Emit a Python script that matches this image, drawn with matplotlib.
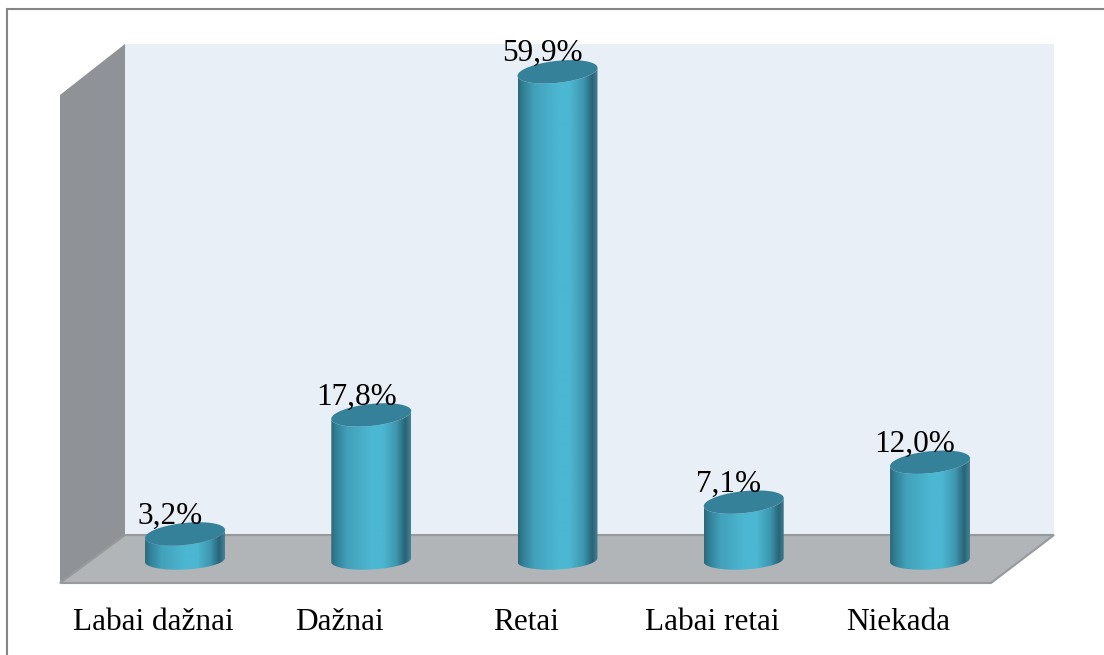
from matplotlib import pyplot as plt
from matplotlib.patches import Polygon
import numpy as np

categories = ['Labai dažnai', 'Dažnai', 'Retai', 'Labai retai', 'Niekada']
values = [3.2, 17.8, 59.9, 7.1, 12.0]
value_labels = ['3,2%', '17,8%', '59,9%', '7,1%', '12,0%']

W, H = 1104, 655
x0, dx = 185, 186.25   # pixel of first bar, pixels per category
y0, dy = 560, 8.15     # pixel of zero, pixels per percent

plt.rcParams['font.family'] = ['Liberation Serif', 'DejaVu Serif']
fig = plt.figure(figsize=(W/100, H/100), dpi=100)
ax = fig.add_axes([0, 0, 1, 1])
ax.set_xlim(-x0/dx, (W-x0)/dx)
ax.set_ylim((y0-H)/dy, y0/dy)
ax.axis('off')


def px(points):
    # scene decoration is placed in pixels of the figure
    return [(a/W, 1-b/H) for a, b in points]


def wall(points, color, edge=None):
    ax.add_patch(Polygon(px(points), closed=True, transform=ax.transAxes, facecolor=color,
                         edgecolor=edge or color, linewidth=1.5 if edge else 0, zorder=1))


# outer frame, runs off the right and bottom of the picture
ax.add_patch(Polygon(px([(7, 8.5), (1120, 8.5), (1120, 670), (7, 670)]), closed=True, transform=ax.transAxes,
                     facecolor='white', edgecolor='#858585', linewidth=1.5, zorder=0))
wall([(125, 44), (1054, 44), (1054, 535), (125, 535)], '#e8eff6')
wall([(60, 95), (125, 44), (125, 535), (60, 583)], '#8f9296')
wall([(125, 535), (1054, 535), (991, 583), (60, 583)], '#b1b5b8', '#969a9d')

# cylinder shape and shading
half_w = 40/dx
top_b, top_tilt = 11/dy, 4/dy
bot_b, bot_tilt = 9.5/dy, 2/dy
t = np.linspace(0, 2*np.pi, 121)
shade = np.array([[44, 104, 122], [50, 130, 152], [66, 160, 186], [76, 183, 210],
                  [76, 183, 210], [62, 150, 175], [40, 100, 118], [70, 130, 150]])/255
stops = [0, .07, .2, .5, .65, .82, .93, 1]
u = np.linspace(0, 1, 200)
grad = np.stack([np.interp(u, stops, shade[:, k]) for k in range(3)], axis=1)[None, :, :]

for i, v in enumerate(values):
    ct = np.cos(t)
    st = np.sin(t)
    top_x = i + half_w*ct
    top_y = v + top_b*st + top_tilt*ct
    bot_y = bot_b*st + bot_tilt*ct
    lower = st <= 0
    order = np.argsort(top_x[lower])
    body = np.vstack([
        np.column_stack([top_x[lower][order], (bot_y[lower])[order]]),
        np.column_stack([top_x[lower][order][::-1], (top_y[lower])[order][::-1]]),
    ])
    clip = Polygon(body, closed=True, transform=ax.transData)
    im = ax.imshow(grad, extent=[i-half_w, i+half_w, -2, v+2], aspect='auto', zorder=3)
    im.set_clip_path(clip)
    ax.fill(top_x, top_y, color='#35819a', linewidth=0, zorder=4)
    ax.text(i-15/dx, v+18/dy, value_labels[i], ha='center', va='center', fontsize=22.5,
            color='black', zorder=5)
    ax.text(i-32/dx, -62/dy, categories[i], ha='center', va='center', fontsize=22.5, color='black', zorder=5)

ax.set_xlim(-x0/dx, (W-x0)/dx)
ax.set_ylim((y0-H)/dy, y0/dy)
fig.savefig('out.png', dpi=100)
